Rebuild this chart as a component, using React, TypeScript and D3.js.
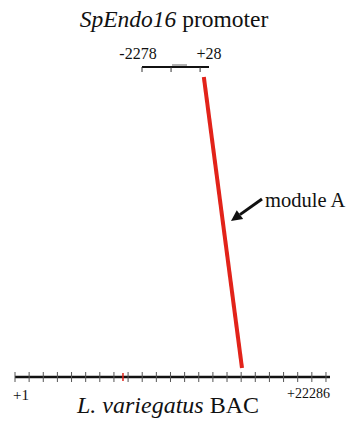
import React from "react";
import * as d3 from "d3";

const bacRange = [1, 22286];
const promRange = [-2278, 28];
const tickStep = 1000;
const moduleA = { promoter: -150, bac: 16060 };
const otherBacMark = [7640];
const bacLabels = ["+1", "+22286"];
const promLabels = ["-2278", "+28"];

export default function App() {
  const W = 350, H = 423;
  const bac = d3.scaleLinear().domain(bacRange).range([15, 330]);
  const prom = d3.scaleLinear().domain(promRange).range([142, 209]);
  const bacTicks = d3.range(bacRange[0], bacRange[1], tickStep);
  const promTicks = d3.range(promRange[0], promRange[1], tickStep);
  const bacY = 377;
  const promY = 67;
  const red = "#e2231a";
  const font = "'Liberation Serif', 'Times New Roman', serif";

  const tipX = 231, tipY = 221, tailX = 262, tailY = 199;
  const ang = Math.atan2(tipY - tailY, tipX - tailX);
  const hl = 11, hw = 5.5;
  const bx = tipX - hl * Math.cos(ang), by = tipY - hl * Math.sin(ang);
  const p1 = [bx + hw * Math.sin(ang), by - hw * Math.cos(ang)];
  const p2 = [bx - hw * Math.sin(ang), by + hw * Math.cos(ang)];

  return (
    <svg width={W} height={H} style={{ position: "absolute", left: 0, top: 0, background: "#fff" }} fontFamily={font}>
      <text x={174} y={27} textAnchor="middle" fontSize={23.5} fill="#111">
        <tspan fontStyle="italic">SpEndo16</tspan> promoter
      </text>
      <text x={prom(promRange[0]) - 4} y={59} textAnchor="middle" fontSize={16} fill="#111">{promLabels[0]}</text>
      <text x={prom(promRange[1])} y={59} textAnchor="middle" fontSize={16} fill="#111">{promLabels[1]}</text>
      <line x1={prom(promRange[0])} x2={prom(promRange[1])} y1={promY} y2={promY} stroke="#111" strokeWidth={2.2} />
      <line x1={172} x2={187} y1={65} y2={65} stroke="#666" strokeWidth={1} />
      {promTicks.map((t) => (
        <line key={t} x1={prom(t)} x2={prom(t)} y1={promY} y2={promY + 5} stroke="#333" strokeWidth={1} />
      ))}
      <line x1={prom(moduleA.promoter)} y1={77} x2={bac(moduleA.bac)} y2={368} stroke={red} strokeWidth={4} />
      <line x1={tailX} y1={tailY} x2={bx} y2={by} stroke="#111" strokeWidth={3} />
      <polygon points={`${tipX},${tipY} ${p1[0]},${p1[1]} ${p2[0]},${p2[1]}`} fill="#111" />
      <text x={265} y={207} fontSize={20.5} fill="#111">module A</text>
      <line x1={bac(bacRange[0])} x2={bac(bacRange[1])} y1={bacY} y2={bacY} stroke="#111" strokeWidth={2.5} />
      {bacTicks.map((t) => (
        <line key={t} x1={bac(t)} x2={bac(t)} y1={bacY - 5} y2={bacY + 5} stroke="#555" strokeWidth={1} />
      ))}
      {otherBacMark.map((t) => (
        <line key={t} x1={bac(t)} x2={bac(t)} y1={bacY - 4} y2={bacY + 4} stroke={red} strokeWidth={1.5} />
      ))}
      <text x={13} y={400} fontSize={15} fill="#111">{bacLabels[0]}</text>
      <text x={330} y={398} textAnchor="end" fontSize={14} fill="#111">{bacLabels[1]}</text>
      <text x={168} y={413} textAnchor="middle" fontSize={24} fill="#111">
        <tspan fontStyle="italic">L. variegatus</tspan> BAC
      </text>
    </svg>
  );
}
